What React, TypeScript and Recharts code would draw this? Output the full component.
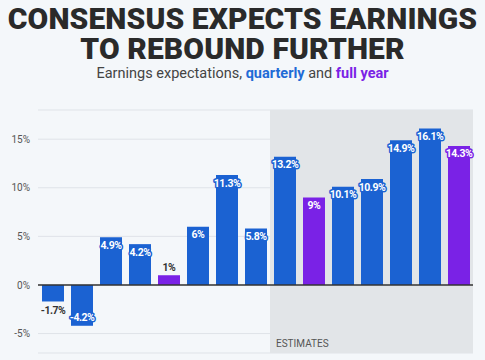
import React from 'react';
import { BarChart, Bar, XAxis, YAxis, CartesianGrid, ReferenceArea, ReferenceLine, LabelList, Cell } from 'recharts';

const periods = ['Q1 23', 'Q2 23', 'Q3 23', 'Q4 23', '2023', 'Q1 24', 'Q2 24', 'Q3 24', 'Q4 24', '2024', 'Q1 25', 'Q2 25', 'Q3 25', 'Q4 25', '2025'];
const growth = [-1.7, -4.2, 4.9, 4.2, 1, 6, 11.3, 5.8, 13.2, 9, 10.1, 10.9, 14.9, 16.1, 14.3];
const isFullYear = [false, false, false, false, true, false, false, false, false, true, false, false, false, false, true];
const yTicks = [-5, 0, 5, 10, 15];
const estimateStart = 'Q4 24';
const estimateEnd = '2025';

const BLUE = '#1b62d2';
const PURPLE = '#7a22e6';
const BG = '#f4f7fa';

const chartData = periods.map((p, i) => ({ period: p, growth: growth[i], fy: isFullYear[i] }));

const BarLabel = (props: any) => {
  const { x, y, width, height, value, index } = props;
  const color = isFullYear[index] ? PURPLE : BLUE;
  const top = Math.min(y, y + height);
  const bottom = Math.max(y, y + height);
  const cx = x + width / 2;
  const small = Math.abs(value) < 2;
  let cy: number;
  if (value >= 0) cy = small ? top - 8 : top + 8;
  else cy = small ? bottom + 9 : bottom - 8;
  const text = `${value}%`;
  if (small) {
    return (
      <text x={cx} y={cy} textAnchor="middle" dominantBaseline="central" fill="#333"
        style={{ fontFamily: 'Roboto', fontWeight: 700, fontSize: 10.5, letterSpacing: -0.5 }}>
        {text}
      </text>
    );
  }
  return (
    <text x={cx} y={cy} textAnchor="middle" dominantBaseline="central" fill="#fff"
      stroke={color} strokeWidth={3} strokeLinejoin="round" paintOrder="stroke"
      style={{ fontFamily: 'Roboto', fontWeight: 700, fontSize: 10.5, letterSpacing: -0.5 }}>
      {text}
    </text>
  );
};

const titleStyle: React.CSSProperties = {
  position: 'absolute', left: 0, width: 485, textAlign: 'center', color: '#2a2a2a',
  fontWeight: 900, fontSize: 30, lineHeight: '28px', letterSpacing: 0.1, whiteSpace: 'nowrap',
};

export default function App() {
  return (
    <div style={{ position: 'absolute', left: 0, top: 0, width: 485, height: 360, overflow: 'hidden', background: BG, fontFamily: 'Roboto, sans-serif' }}>
      <div style={{ ...titleStyle, top: 5 }}>CONSENSUS EXPECTS EARNINGS</div>
      <div style={{ ...titleStyle, top: 35 }}>TO REBOUND FURTHER</div>
      <div style={{ position: 'absolute', left: 0, top: 66, width: 485, textAlign: 'center', color: '#444', fontSize: 14.5, lineHeight: '15px' }}>
        Earnings expectations, <b style={{ color: '#1f6bd6' }}>quarterly</b> and <b style={{ color: PURPLE }}>full year</b>
      </div>
      <div style={{ position: 'absolute', left: 0, top: 0 }}>
        <BarChart width={485} height={383} data={chartData} margin={{ top: 110, right: 12, bottom: 6, left: 0 }} barSize={22}>
          <ReferenceArea x1={estimateStart} x2={estimateEnd} y1={-7} y2={18} fill="#e2e5e8" fillOpacity={1} stroke="none"
            label={{ value: 'ESTIMATES', position: 'insideBottomLeft', offset: 6, fill: '#555', fontSize: 10, fontFamily: 'Roboto' }} />
          <CartesianGrid vertical={false} stroke="#dfe3e8" />
          <XAxis dataKey="period" axisLine={false} tickLine={false} interval={0} tick={{ fill: '#bbb', fontSize: 8 }} height={24} tickMargin={6} />
          <YAxis domain={[-7, 18]} ticks={yTicks} width={38} axisLine={false} tickLine={false} tickSize={0} tickMargin={8}
            tickFormatter={(v: number) => `${v}%`} tick={{ fill: '#555', fontSize: 10 }} />
          <Bar dataKey="growth" isAnimationActive={false}>
            {chartData.map((d, i) => (
              <Cell key={i} fill={d.fy ? PURPLE : BLUE} />
            ))}
            <LabelList dataKey="growth" content={<BarLabel />} />
          </Bar>
          <ReferenceLine y={0} stroke="#333" strokeWidth={1.5} />
        </BarChart>
      </div>
    </div>
  );
}
